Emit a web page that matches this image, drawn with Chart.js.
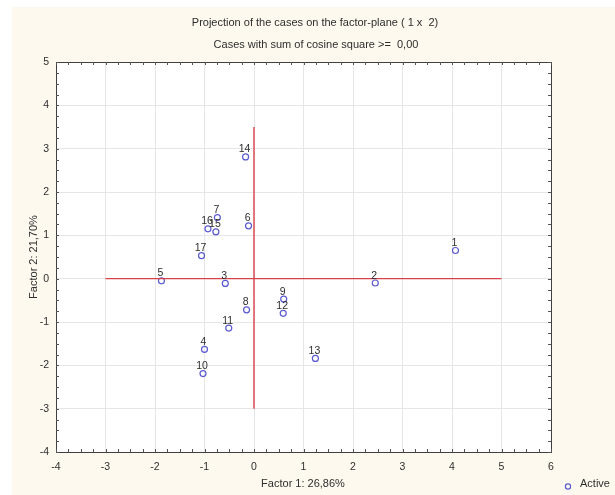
<!DOCTYPE html>
<html>
<head>
<meta charset="utf-8">
<script src="https://cdn.jsdelivr.net/npm/chart.js@4"></script>
<style>
html,body{margin:0;padding:0;background:#ffffff;}
#wrap{width:615px;height:495px;position:relative;}
</style>
</head>
<body>
<div id="wrap"><canvas id="c" width="615" height="495"></canvas></div>
<script>
const caseLabels = ['1','2','3','4','5','6','7','8','9','10','11','12','13','14','15','16','17'];
const factor1 = [4.07, 2.45, -0.58, -1.00, -1.87, -0.11, -0.74, -0.15, 0.60, -1.03, -0.51, 0.59, 1.24, -0.17, -0.77, -0.93, -1.06];
const factor2 = [0.65, -0.10, -0.11, -1.63, -0.05, 1.22, 1.41, -0.72, -0.47, -2.19, -1.14, -0.80, -1.84, 2.81, 1.08, 1.15, 0.53];
const xTicks = [-4,-3,-2,-1,0,1,2,3,4,5,6];
const yTicks = [-4,-3,-2,-1,0,1,2,3,4,5];
const hLine = {x: [-3, 5], y: [0, 0]};
const vLine = {x: [0, 0], y: [-3, 3.5]};
const titleText = 'Projection of the cases on the factor-plane ( 1 x  2)';
const subtitleText = 'Cases with sum of cosine square >=  0,00';
const xTitle = 'Factor 1: 26,86%';
const yTitle = 'Factor 2: 21,70%';
const legendText = 'Active';

const FONT = '"Liberation Sans", Arial, sans-serif';
const TXT = '#2e2e2e';
const PT = '#5b5bd0';

const points = factor1.map((v,i)=>({x:v, y:factor2[i]}));

const decor = {
  id:'decor',
  beforeDraw(chart){
    const ctx = chart.ctx, a = chart.chartArea;
    ctx.save();
    ctx.fillStyle = '#ffffff';
    ctx.fillRect(0,0,chart.width,chart.height);
    ctx.fillStyle = '#fdf9ee';
    ctx.fillRect(12,7,chart.width-12,chart.height-7);
    ctx.fillStyle = '#ffffff';
    ctx.fillRect(a.left,a.top,a.right-a.left,a.bottom-a.top);
    ctx.restore();
  },
  afterDraw(chart){
    const ctx = chart.ctx, a = chart.chartArea;
    const xs = chart.scales.x, ys = chart.scales.y;
    ctx.save();
    // frame
    ctx.strokeStyle = '#404040';
    ctx.lineWidth = 1;
    ctx.strokeRect(Math.round(a.left)+0.5, Math.round(a.top)+0.5, Math.round(a.right-a.left), Math.round(a.bottom-a.top));
    // minor/major ticks inward
    ctx.strokeStyle = '#555555';
    ctx.beginPath();
    for (let v = xs.min; v <= xs.max + 1e-9; v += 0.25) {
      const px = Math.round(xs.getPixelForValue(v)) + 0.5;
      const len = 3;
      ctx.moveTo(px, a.bottom); ctx.lineTo(px, a.bottom - len);
      ctx.moveTo(px, a.top); ctx.lineTo(px, a.top + len);
    }
    for (let v = ys.min; v <= ys.max + 1e-9; v += 0.25) {
      const py = Math.round(ys.getPixelForValue(v)) + 0.5;
      const len = 3;
      ctx.moveTo(a.left, py); ctx.lineTo(a.left + len, py);
      ctx.moveTo(a.right, py); ctx.lineTo(a.right - len, py);
    }
    ctx.stroke();
    // point labels
    ctx.fillStyle = TXT;
    ctx.font = '10.5px ' + FONT;
    ctx.textAlign = 'center';
    ctx.textBaseline = 'alphabetic';
    const meta = chart.getDatasetMeta(2);
    meta.data.forEach((el,i)=>{
      ctx.fillText(caseLabels[i], el.x - 1, el.y - 4.5);
    });
    // titles
    ctx.font = '11px ' + FONT;
    ctx.fillText(titleText, 315, 26);
    ctx.fillText(subtitleText, 316, 48);
    ctx.fillText(xTitle, 303, 487);
    ctx.save();
    ctx.translate(37, 257);
    ctx.rotate(-Math.PI/2);
    ctx.fillText(yTitle, 0, 0);
    ctx.restore();
    // legend
    ctx.strokeStyle = PT;
    ctx.lineWidth = 1.2;
    ctx.beginPath();
    ctx.arc(568, 486.5, 2.6, 0, Math.PI*2);
    ctx.stroke();
    ctx.fillStyle = TXT;
    ctx.textAlign = 'left';
    ctx.fillText(legendText, 580, 487);
    ctx.restore();
  }
};

new Chart(document.getElementById('c'), {
  type: 'scatter',
  data: {
    datasets: [
      {data: hLine.x.map((v,i)=>({x:v,y:hLine.y[i]})), showLine:true, borderColor:'#d8404a', borderWidth:1.4, pointRadius:0},
      {data: vLine.x.map((v,i)=>({x:v,y:vLine.y[i]})), showLine:true, borderColor:'#d8404a', borderWidth:1.4, pointRadius:0},
      {data: points, pointRadius:3, pointBorderWidth:1.2, pointBorderColor:PT, pointBackgroundColor:'rgba(255,255,255,0)', showLine:false}
    ]
  },
  options: {
    responsive:false,
    animation:false,
    events:[],
    layout:{padding:{left:0, top:62, right:64, bottom:0}},
    plugins:{legend:{display:false}, tooltip:{enabled:false}, title:{display:false}},
    scales:{
      x:{
        type:'linear', min:-4, max:6,
        afterBuildTicks(s){ s.ticks = xTicks.map(v=>({value:v})); },
        afterFit(s){ s.height = 43; },
        grid:{color:'#e6e6e6', lineWidth:1, drawTicks:false},
        border:{display:false},
        ticks:{padding:9, color:TXT, font:{family:FONT, size:10.5}, maxRotation:0, autoSkip:false}
      },
      y:{
        type:'linear', min:-4, max:5,
        afterBuildTicks(s){ s.ticks = yTicks.map(v=>({value:v})); },
        afterFit(s){ s.width = 56; },
        grid:{color:'#e6e6e6', lineWidth:1, drawTicks:false},
        border:{display:false},
        ticks:{padding:7, color:TXT, font:{family:FONT, size:10.5}, autoSkip:false}
      }
    }
  },
  plugins:[decor]
});
</script>
</body>
</html>
